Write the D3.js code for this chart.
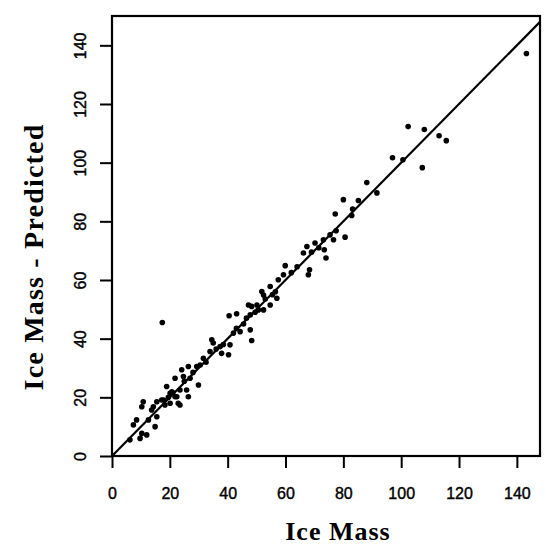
<!DOCTYPE html>
<html>
<head>
<meta charset="utf-8">
<script src="https://cdn.jsdelivr.net/npm/d3@7"></script>
<style>
  body { margin: 0; background: #fff; }
  svg { display: block; }
</style>
</head>
<body>
<svg id="chart" width="546" height="546"></svg>
<script>
const iceMass = [
  6.2, 9.7, 10.3, 12, 7.4, 8.5, 12.6, 14.9, 15.5, 13.7, 10.3, 10.8, 14.3, 15.5,
  17.2, 17.8, 18.3, 20.1, 22.9, 23.5, 21.8, 20.7, 22.4, 23.5, 18.9, 20.1, 26.4,
  25.8, 21.8, 24.7, 27, 29.9, 24.1, 26.4, 29.3, 31.6, 33.9, 35, 34.5, 37.4, 37.9,
  40.3, 40.8, 42, 44.3, 47.8, 48.3, 40.5, 43.1, 47.2, 47.8, 50.6, 17.4,
  48.3, 50.1, 52.4, 54.7, 57, 52.4, 51.8, 54.7, 57.5, 59.3, 59.9, 66.2, 67.4,
  67.9, 68.3, 70.2, 73.1, 73.4, 74, 75.4, 76.6, 80.6, 77.5, 77.2, 82.9, 83.2,
  80, 85.2, 88.1, 91.6, 97, 100.6, 102.4, 108, 113.1, 115.6, 107.3, 143.3,
  19.5, 21, 25, 28, 30.5, 32.5, 36, 38.5, 43, 45.5, 46.5, 49.5, 53, 55.5, 56.5,
  62, 64, 69, 71.5
]
const predicted = [
  5.5, 6, 7.7, 7.2, 10.6, 12.3, 12.3, 10, 13.4, 15.7, 16.8, 18.5, 16.8, 18.5,
  19.1, 19.1, 17.4, 18, 18, 17.4, 20.2, 21.9, 20.2, 22.5, 23.7, 21.4, 20.2,
  22.5, 26.5, 27.1, 26.5, 24.2, 29.4, 30.5, 30.5, 33.3, 35.6, 38.5, 39.6, 37.3, 35,
  34.5, 37.9, 41.9, 42.4, 43, 39.4, 47.8, 48.5, 51.5, 48.1, 49.8, 45.5,
  51, 51.5, 49.8, 51.5, 53.8, 54.9, 56.1, 57.8, 60.1, 61.8, 64.9, 69.2, 71.4,
  61.8, 63.5, 72.6, 73.7, 70.3, 67.5, 75.4, 73.7, 74.6, 76.8, 82.5, 82, 84.2,
  87.4, 87.1, 93.2, 89.7, 101.7, 101, 112.3, 111.3, 109.2, 107.5, 98.3, 137.2,
  20, 21.5, 25.5, 28.5, 31, 32, 36.5, 38, 43.5, 45, 47, 49, 53.5, 55, 56,
  62.5, 64.5, 69.5, 71
]
const tickValues = [0, 20, 40, 60, 80, 100, 120, 140]

const points = iceMass.map((v, i) => ({ x: v, y: predicted[i] }))

const svg = d3.select('#chart')
const plotLeft = 112
const plotRight = 540
const plotTop = 16
const plotBottom = 456

const x = d3.scaleLinear().domain([0, 148]).range([plotLeft, plotRight])
const y = d3.scaleLinear().domain([0, 150]).range([plotBottom, plotTop])

svg.append('defs')
  .append('clipPath')
  .attr('id', 'clip')
  .append('rect')
  .attr('x', plotLeft)
  .attr('y', plotTop)
  .attr('width', plotRight - plotLeft)
  .attr('height', plotBottom - plotTop)

// x axis
const xAxis = svg.append('g')
  .attr('transform', `translate(0 ${plotBottom})`)
  .call(d3.axisBottom(x).tickValues(tickValues).tickSize(12).tickSizeOuter(0))
xAxis.select('.domain').remove()
xAxis.selectAll('line').attr('stroke', '#000').attr('stroke-width', 2)
xAxis.selectAll('text')
  .attr('y', 43)
  .attr('dy', 0)
  .attr('fill', '#000')
  .attr('stroke', '#000')
  .attr('stroke-width', 0.4)
  .style('font', '16px "Liberation Sans", Arial, sans-serif')

// y axis, labels parallel to the axis
const yAxis = svg.append('g')
  .attr('transform', `translate(${plotLeft} 0)`)
  .call(d3.axisLeft(y).tickValues(tickValues).tickSize(12).tickSizeOuter(0))
yAxis.select('.domain').remove()
yAxis.selectAll('line').attr('stroke', '#000').attr('stroke-width', 2)
yAxis.selectAll('text')
  .attr('x', 0)
  .attr('dy', 0)
  .attr('text-anchor', 'middle')
  .attr('transform', 'translate(-26 0) rotate(-90)')
  .attr('fill', '#000')
  .attr('stroke', '#000')
  .attr('stroke-width', 0.4)
  .style('font', '16px "Liberation Sans", Arial, sans-serif')

// y = x reference line
const line = d3.line().x((d) => x(d[0])).y((d) => y(d[1]))
svg.append('path')
  .datum([[0, 0], [150, 150]])
  .attr('clip-path', 'url(#clip)')
  .attr('fill', 'none')
  .attr('stroke', '#000')
  .attr('stroke-width', 2.2)
  .attr('d', line)

// points
svg.append('g')
  .selectAll('circle')
  .data(points)
  .join('circle')
  .attr('cx', (d) => x(d.x))
  .attr('cy', (d) => y(d.y))
  .attr('r', 2.8)
  .attr('fill', '#000')

// frame
svg.append('rect')
  .attr('x', plotLeft)
  .attr('y', plotTop)
  .attr('width', plotRight - plotLeft)
  .attr('height', plotBottom - plotTop)
  .attr('fill', 'none')
  .attr('stroke', '#000')
  .attr('stroke-width', 2.2)

// axis titles
svg.append('text')
  .attr('x', 338)
  .attr('y', 540)
  .attr('text-anchor', 'middle')
  .style('font', 'bold 26px "Liberation Serif", "Times New Roman", serif')
  .style('letter-spacing', '1px')
  .text('Ice Mass')

svg.append('text')
  .attr('transform', 'translate(43 257) rotate(-90)')
  .attr('text-anchor', 'middle')
  .style('font', 'bold 28px "Liberation Serif", "Times New Roman", serif')
  .style('letter-spacing', '1.2px')
  .text('Ice Mass - Predicted')
</script>
</body>
</html>
